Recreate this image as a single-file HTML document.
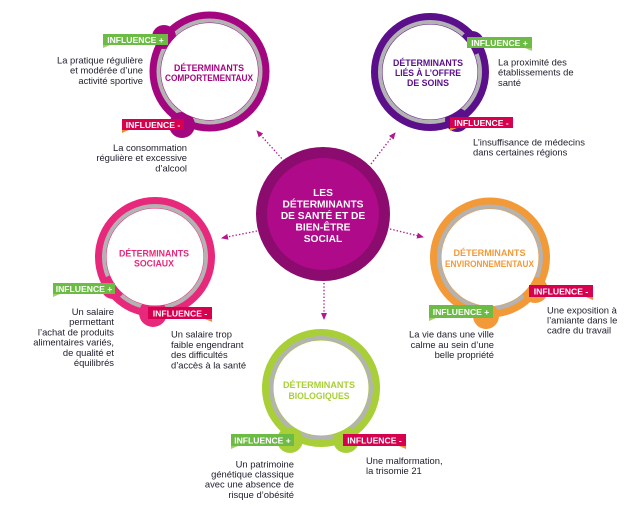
<!DOCTYPE html>
<html><head><meta charset="utf-8"><style>
html,body{margin:0;padding:0;background:#fff;}
svg{display:block;}
.b{font-family:"Liberation Sans",sans-serif;font-size:9.4px;fill:#1f1d2b;}
.h{font-family:"Liberation Sans",sans-serif;font-size:8.8px;font-weight:bold;text-anchor:middle;}
.l{font-family:"Liberation Sans",sans-serif;font-size:8.6px;font-weight:bold;fill:#fff;text-anchor:middle;}
.c{font-family:"Liberation Sans",sans-serif;font-size:10.2px;font-weight:bold;fill:#fff;text-anchor:middle;}
</style></head><body>
<svg width="627" height="518" viewBox="0 0 627 518" xmlns="http://www.w3.org/2000/svg">
<defs>
<marker id="ah" markerWidth="7" markerHeight="6" refX="6" refY="3" orient="auto" markerUnits="userSpaceOnUse">
<path d="M0,0 L7,3 L0,6 z" fill="#b5178f"/>
</marker>
</defs>

<!-- arrows -->
<g stroke="#b5178f" stroke-width="1.3" stroke-dasharray="1.4 2" fill="none" marker-end="url(#ah)">
<line x1="284" y1="161" x2="257" y2="131"/>
<line x1="371" y1="164" x2="395" y2="133"/>
<line x1="257" y1="231" x2="222" y2="238"/>
<line x1="390" y1="229" x2="423" y2="237"/>
<line x1="324" y1="283" x2="324" y2="319"/>
</g>

<!-- center -->
<circle cx="323" cy="214" r="67" fill="#8b0b6e"/>
<circle cx="323" cy="214" r="56" fill="#ae0a8a"/>
<text class="c" x="323" y="196">LES</text>
<text class="c" x="323" y="207.5">DÉTERMINANTS</text>
<text class="c" x="323" y="219">DE SANTÉ ET DE</text>
<text class="c" x="323" y="230.5">BIEN-ÊTRE</text>
<text class="c" x="323" y="242">SOCIAL</text>

<!-- comportementaux -->
<circle cx="209.5" cy="71.5" r="60" fill="#a4067f"/>
<circle cx="209.5" cy="71.5" r="51" fill="none" stroke="#b3b3b3" stroke-width="4"/>
<circle cx="164" cy="37" r="12" fill="#a4067f"/>
<circle cx="182" cy="125" r="13" fill="#a4067f"/>
<circle cx="209.5" cy="71.5" r="48.5" fill="#fff"/>
<text class="h" x="209" y="71" fill="#a4067f" textLength="70" lengthAdjust="spacingAndGlyphs">DÉTERMINANTS</text>
<text class="h" x="209" y="81" fill="#a4067f" textLength="88" lengthAdjust="spacingAndGlyphs">COMPORTEMENTAUX</text>

<!-- soins -->
<circle cx="430" cy="72" r="59" fill="#5b0f8b"/>
<circle cx="430" cy="72" r="50" fill="none" stroke="#b3b3b3" stroke-width="4"/>
<circle cx="472" cy="43" r="12" fill="#5b0f8b"/>
<circle cx="457" cy="120" r="12" fill="#5b0f8b"/>
<circle cx="430" cy="72" r="47.5" fill="#fff"/>
<text class="h" x="428" y="66" fill="#5b0f8b" textLength="70" lengthAdjust="spacingAndGlyphs">DÉTERMINANTS</text>
<text class="h" x="428" y="76" fill="#5b0f8b" textLength="66" lengthAdjust="spacingAndGlyphs">LIÉS À L’OFFRE</text>
<text class="h" x="428" y="86" fill="#5b0f8b" textLength="42" lengthAdjust="spacingAndGlyphs">DE SOINS</text>

<!-- sociaux -->
<circle cx="155" cy="257" r="60" fill="#e8287a"/>
<circle cx="155" cy="257" r="51" fill="none" stroke="#b3b3b3" stroke-width="4"/>
<circle cx="113" cy="287" r="12" fill="#e8287a"/>
<circle cx="153" cy="313" r="14" fill="#e8287a"/>
<circle cx="155" cy="257" r="48.5" fill="#fff"/>
<text class="h" x="154" y="256.5" fill="#e8287a" textLength="70" lengthAdjust="spacingAndGlyphs">DÉTERMINANTS</text>
<text class="h" x="154" y="266.5" fill="#e8287a" textLength="40" lengthAdjust="spacingAndGlyphs">SOCIAUX</text>

<!-- environnementaux -->
<circle cx="490" cy="257.5" r="60" fill="#f29a38"/>
<circle cx="490" cy="257.5" r="51" fill="none" stroke="#b3b3b3" stroke-width="4"/>
<circle cx="535" cy="290" r="13" fill="#f29a38"/>
<circle cx="486" cy="316" r="13" fill="#f29a38"/>
<circle cx="490" cy="257.5" r="48.5" fill="#fff"/>
<text class="h" x="489.5" y="256" fill="#f29a38" textLength="72" lengthAdjust="spacingAndGlyphs">DÉTERMINANTS</text>
<text class="h" x="489.5" y="267" fill="#f29a38" textLength="89" lengthAdjust="spacingAndGlyphs">ENVIRONNEMENTAUX</text>

<!-- biologiques -->
<circle cx="321" cy="388" r="59" fill="#a8cf38"/>
<circle cx="321" cy="388" r="50" fill="none" stroke="#b3b3b3" stroke-width="4"/>
<circle cx="290" cy="440" r="13" fill="#a8cf38"/>
<circle cx="346" cy="440" r="13" fill="#a8cf38"/>
<circle cx="321" cy="388" r="47.5" fill="#fff"/>
<text class="h" x="319" y="388" fill="#a8cf38" textLength="72" lengthAdjust="spacingAndGlyphs">DÉTERMINANTS</text>
<text class="h" x="319" y="399" fill="#a8cf38" textLength="61" lengthAdjust="spacingAndGlyphs">BIOLOGIQUES</text>

<!-- labels -->
<path d="M103,45 L110,45 L103,48 z" fill="#9fd06a"/>
<rect x="103" y="34" width="65" height="11" fill="#6cbb45"/>
<text class="l" x="135.5" y="42.8">INFLUENCE +</text>

<path d="M122,130 L129,130 L122,133 z" fill="#f08a3c"/>
<rect x="122" y="119" width="62" height="11" fill="#d6004f"/>
<text class="l" x="153" y="127.8">INFLUENCE -</text>

<path d="M532,48 L525,48 L532,51 z" fill="#9fd06a"/>
<rect x="467" y="37" width="65" height="11" fill="#6cbb45"/>
<text class="l" x="499.5" y="45.8">INFLUENCE +</text>

<path d="M450,128 L457,128 L450,131 z" fill="#f08a3c"/>
<rect x="450" y="117" width="63" height="11" fill="#d6004f"/>
<text class="l" x="481.5" y="125.8">INFLUENCE -</text>

<path d="M53,294 L60,294 L53,297 z" fill="#9fd06a"/>
<rect x="53" y="283" width="62" height="11" fill="#6cbb45"/>
<text class="l" x="84" y="291.8">INFLUENCE +</text>

<path d="M212,319 L205,319 L212,322 z" fill="#f08a3c"/>
<rect x="148" y="307" width="64" height="12" fill="#d6004f"/>
<text class="l" x="180" y="316.3">INFLUENCE -</text>

<path d="M593,297 L586,297 L593,300 z" fill="#f08a3c"/>
<rect x="529" y="285" width="64" height="12" fill="#d6004f"/>
<text class="l" x="561" y="294.3">INFLUENCE -</text>

<path d="M429,318 L436,318 L429,321 z" fill="#9fd06a"/>
<rect x="429" y="305" width="64" height="13" fill="#6cbb45"/>
<text class="l" x="461" y="314.8">INFLUENCE +</text>

<path d="M231,446 L238,446 L231,449 z" fill="#9fd06a"/>
<rect x="231" y="434" width="63" height="12" fill="#6cbb45"/>
<text class="l" x="262.5" y="443.3">INFLUENCE +</text>

<path d="M406,446 L399,446 L406,449 z" fill="#f08a3c"/>
<rect x="343" y="434" width="63" height="12" fill="#d6004f"/>
<text class="l" x="374.5" y="443.3">INFLUENCE -</text>

<!-- body texts -->
<g class="b" text-anchor="end">
<text x="143" y="63.5">La pratique régulière</text>
<text x="143" y="73.7">et modérée d’une</text>
<text x="143" y="83.9">activité sportive</text>

<text x="187" y="151">La consommation</text>
<text x="187" y="161.2">régulière et excessive</text>
<text x="187" y="171.4">d’alcool</text>

<text x="114" y="315">Un salaire</text>
<text x="114" y="325.2">permettant</text>
<text x="114" y="335.4">l’achat de produits</text>
<text x="114" y="345.6">alimentaires variés,</text>
<text x="114" y="355.8">de qualité et</text>
<text x="114" y="366">équilibrés</text>

<text x="494" y="337.7">La vie dans une ville</text>
<text x="494" y="347.9">calme au sein d’une</text>
<text x="494" y="358.1">belle propriété</text>

<text x="294" y="467.3">Un patrimoine</text>
<text x="294" y="477.5">génétique classique</text>
<text x="294" y="487.7">avec une absence de</text>
<text x="294" y="497.9">risque d’obésité</text>
</g>
<g class="b" text-anchor="start">
<text x="498" y="65.5">La proximité des</text>
<text x="498" y="75.7">établissements de</text>
<text x="498" y="85.9">santé</text>

<text x="473" y="145.5">L’insuffisance de médecins</text>
<text x="473" y="155.7">dans certaines régions</text>

<text x="171" y="337.7">Un salaire trop</text>
<text x="171" y="347.9">faible engendrant</text>
<text x="171" y="358.1">des difficultés</text>
<text x="171" y="368.3">d’accès à la santé</text>

<text x="547" y="313.3">Une exposition à</text>
<text x="547" y="323.5">l’amiante dans le</text>
<text x="547" y="333.7">cadre du travail</text>

<text x="366" y="464">Une malformation,</text>
<text x="366" y="474.2">la trisomie 21</text>
</g>
</svg>
</body></html>
